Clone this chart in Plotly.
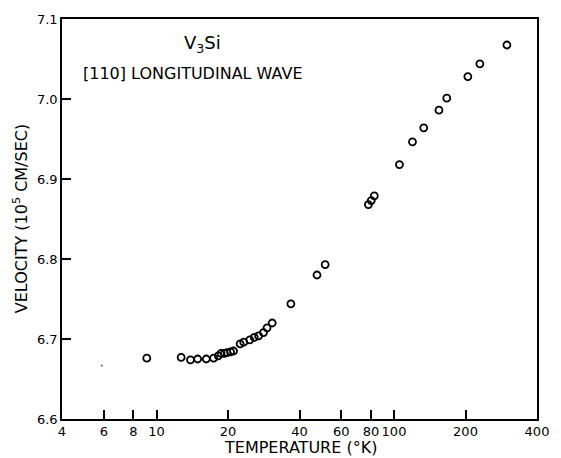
import plotly.graph_objects as go

# Data
temperature_K = [9.1, 12.7, 13.9, 14.9, 16.2, 17.4, 18.2, 18.7, 19.3, 19.8, 20.5, 21.1,
                 22.5, 23.3, 24.7, 25.8, 26.9, 28.2, 29.2, 30.7, 36.8, 47.4, 51.3,
                 78.0, 80.2, 82.6, 105.4, 119.6, 133.4, 154.6, 166.8, 204.6, 229.8, 298.8]
velocity = [6.676, 6.677, 6.674, 6.675, 6.675, 6.676, 6.679, 6.682, 6.682, 6.683, 6.684, 6.685,
            6.694, 6.696, 6.699, 6.702, 6.704, 6.708, 6.714, 6.720, 6.744, 6.780, 6.793,
            6.868, 6.873, 6.879, 6.918, 6.9465, 6.964, 6.986, 7.001, 7.028, 7.044, 7.0675]
stray_T = [5.88]
stray_v = [6.667]

x_ticks = [4, 6, 8, 10, 20, 40, 60, 80, 100, 200, 400]
x_ticklabels = ["4", "6", "8", "10", "20", "40", "60", "80", "100", "200", "400"]
y_ticks = [6.6, 6.7, 6.8, 6.9, 7.0, 7.1]
y_ticklabels = ["6.6", "6.7", "6.8", "6.9", "7.0", "7.1"]

FONT = "DejaVu Sans"

fig = go.Figure()
fig.add_trace(go.Scatter(
    x=temperature_K, y=velocity, mode="markers",
    marker=dict(symbol="circle-open", size=7, color="black", line=dict(width=1.8, color="black")),
    showlegend=False, hoverinfo="x+y"))
fig.add_trace(go.Scatter(
    x=stray_T, y=stray_v, mode="markers",
    marker=dict(symbol="circle", size=2, color="#555"),
    showlegend=False, hoverinfo="skip"))

fig.update_layout(
    width=561, height=458,
    margin=dict(l=62, r=15, t=18, b=39),
    paper_bgcolor="white", plot_bgcolor="white",
    font=dict(family=FONT, color="black", size=13),
    xaxis=dict(type="log", range=[0.60206, 2.60206],
               tickvals=x_ticks, ticktext=x_ticklabels, tickangle=0,
               ticks="inside", ticklen=9, tickwidth=1.5, tickcolor="black",
               showline=True, linecolor="black", linewidth=1.6, mirror=True,
               showgrid=False, zeroline=False,
               tickfont=dict(family=FONT, size=13)),
    yaxis=dict(range=[6.6, 7.1],
               tickvals=y_ticks, ticktext=y_ticklabels,
               ticks="inside", ticklen=9, tickwidth=1.5, tickcolor="black",
               showline=True, linecolor="black", linewidth=1.6, mirror=True,
               showgrid=False, zeroline=False,
               tickfont=dict(family=FONT, size=13)),
    annotations=[
        dict(text="V<sub>3</sub>Si", x=0.296, y=0.938, xref="paper", yref="paper",
             showarrow=False, xanchor="center", yanchor="middle",
             font=dict(family=FONT, size=18)),
        dict(text="[110] LONGITUDINAL WAVE", x=0.040, y=0.865, xref="paper", yref="paper",
             showarrow=False, xanchor="left", yanchor="middle",
             font=dict(family=FONT, size=16)),
        dict(text="TEMPERATURE (°K)", x=0.502, y=-0.07, xref="paper", yref="paper",
             showarrow=False, xanchor="center", yanchor="middle",
             font=dict(family=FONT, size=16)),
        dict(text="VELOCITY (10<sup>5</sup> CM/SEC)", x=-0.088, y=0.5, xref="paper", yref="paper",
             showarrow=False, xanchor="center", yanchor="middle", textangle=-90,
             font=dict(family=FONT, size=16)),
    ],
)

fig.write_html("out.html")
